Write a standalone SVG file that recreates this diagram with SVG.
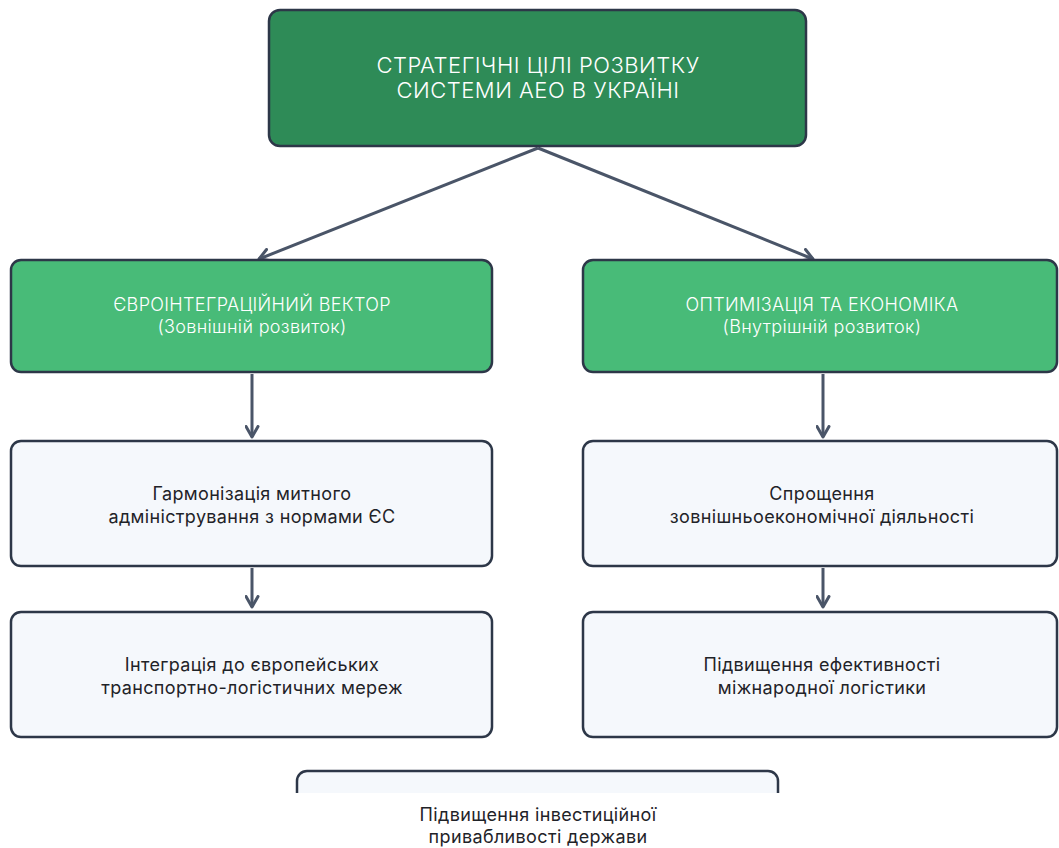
<svg xmlns="http://www.w3.org/2000/svg" width="1059" height="848" viewBox="0 0 1059 848">
<style>
.box{stroke:#2D3748;stroke-width:2.5}
.dark{fill:#2E8B57}
.green{fill:#48BB78}
.light{fill:#F5F8FC}
.t{font-family:Inter,"Noto Sans",sans-serif;text-anchor:middle;letter-spacing:0.35px}
.tw{fill:#FFFFFF;font-weight:300}
.tb{fill:#1F2328}
.conn{stroke:#4A5568;stroke-width:3;fill:none;marker-end:url(#arr)}
</style>
<defs>
<marker id="arr" viewBox="0 0 10 10" refX="8" refY="5" markerWidth="5" markerHeight="5" orient="auto" markerUnits="strokeWidth">
<path d="M1,1 L8,5 L1,9" fill="none" stroke="#4A5568" stroke-width="2" stroke-linecap="round" stroke-linejoin="round"/>
</marker>
<clipPath id="clipBottom"><rect x="280" y="760" width="520" height="33"/></clipPath>
</defs>
<rect width="1059" height="848" fill="#FFFFFF"/>
<g id="connectors">
<line class="conn" x1="538" y1="148" x2="259" y2="259"/>
<line class="conn" x1="538" y1="148" x2="813" y2="259"/>
<line class="conn" x1="252" y1="374" x2="252" y2="437"/>
<line class="conn" x1="823" y1="374" x2="823" y2="437"/>
<line class="conn" x1="252" y1="568" x2="252" y2="607"/>
<line class="conn" x1="823" y1="568" x2="823" y2="607"/>
</g>
<g id="node-top">
<rect class="box dark" x="269" y="10" width="537" height="136" rx="11"/>
<text class="t tw" font-size="22" x="538" y="73" style="letter-spacing:0.5px">СТРАТЕГІЧНІ ЦІЛІ РОЗВИТКУ</text>
<text class="t tw" font-size="22" x="538" y="98" style="letter-spacing:0.5px">СИСТЕМИ АЕО В УКРАЇНІ</text>
</g>
<g id="node-euro">
<rect class="box green" x="11" y="260" width="481" height="112" rx="10"/>
<text class="t tw" font-size="18" x="252" y="311">ЄВРОІНТЕГРАЦІЙНИЙ ВЕКТОР</text>
<text class="t tw" font-size="18" x="252" y="333">(Зовнішній розвиток)</text>
</g>
<g id="node-opt">
<rect class="box green" x="583" y="260" width="474" height="112" rx="10"/>
<text class="t tw" font-size="18" x="822" y="311">ОПТИМІЗАЦІЯ ТА ЕКОНОМІКА</text>
<text class="t tw" font-size="18" x="822" y="333">(Внутрішній розвиток)</text>
</g>
<g id="node-harm">
<rect class="box light" x="11" y="441" width="481" height="125" rx="10"/>
<text class="t tb" font-size="18" x="252" y="500">Гармонізація митного</text>
<text class="t tb" font-size="18" x="252" y="523">адміністрування з нормами ЄС</text>
</g>
<g id="node-simpl">
<rect class="box light" x="583" y="441" width="474" height="125" rx="10"/>
<text class="t tb" font-size="18" x="822" y="500">Спрощення</text>
<text class="t tb" font-size="18" x="822" y="523">зовнішньоекономічної діяльності</text>
</g>
<g id="node-integr">
<rect class="box light" x="11" y="612" width="481" height="125" rx="10"/>
<text class="t tb" font-size="18" x="252" y="671">Інтеграція до європейських</text>
<text class="t tb" font-size="18" x="252" y="694">транспортно-логістичних мереж</text>
</g>
<g id="node-logist">
<rect class="box light" x="583" y="612" width="474" height="125" rx="10"/>
<text class="t tb" font-size="18" x="822" y="671">Підвищення ефективності</text>
<text class="t tb" font-size="18" x="822" y="694">міжнародної логістики</text>
</g>
<g id="node-invest">
<rect class="box light" x="297" y="771" width="481" height="125" rx="10" clip-path="url(#clipBottom)"/>
<text class="t tb" font-size="18" x="538" y="821">Підвищення інвестиційної</text>
<text class="t tb" font-size="18" x="538" y="843">привабливості держави</text>
</g>
</svg>
